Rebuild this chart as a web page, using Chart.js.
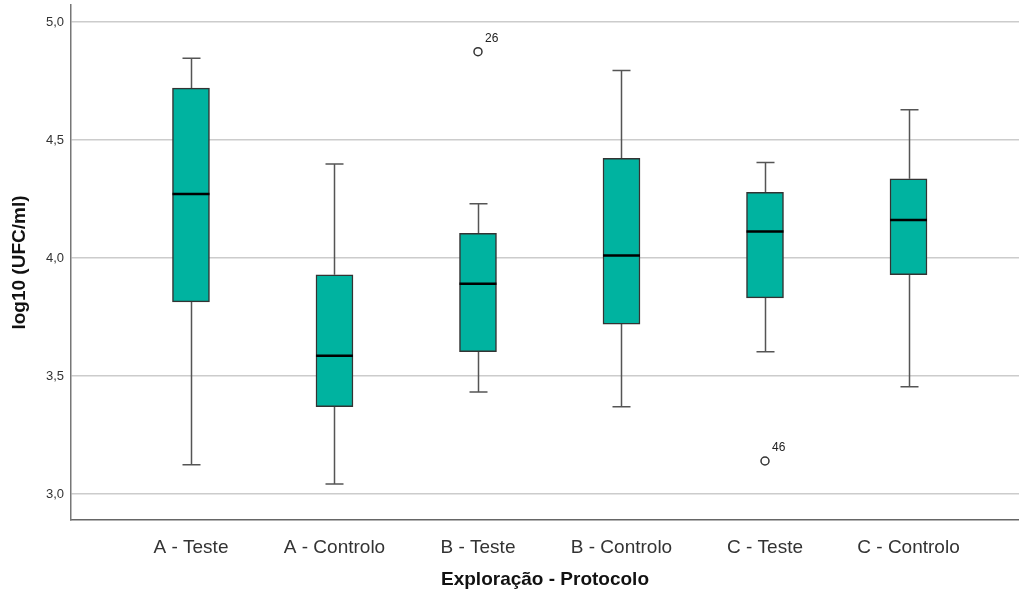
<!DOCTYPE html>
<html lang="pt">
<head>
<meta charset="UTF-8">
<title>log10 (UFC/ml) por Exploração - Protocolo</title>
<style>
  html, body { margin: 0; padding: 0; background: #fff; }
  #wrap { width: 1019px; height: 592px; }
</style>
</head>
<body>
<div id="wrap"><canvas id="boxChart" width="1019" height="592"></canvas></div>

<script src="https://cdn.jsdelivr.net/npm/chart.js@4"></script>
<script>
// values
const categories = ['A - Teste', 'A - Controlo', 'B - Teste', 'B - Controlo', 'C - Teste', 'C - Controlo'];
const whiskerLow = [3.124, 3.042, 3.432, 3.370, 3.603, 3.455];
const q1 = [3.814, 3.370, 3.603, 3.720, 3.831, 3.929];
const median = [4.271, 3.586, 3.891, 4.011, 4.112, 4.161];
const q3 = [4.720, 3.929, 4.105, 4.422, 4.278, 4.336];
const whiskerHigh = [4.846, 4.398, 4.230, 4.795, 4.405, 4.628];
const outlierGroup = [2, 4];
const outlierValue = [4.874, 3.140];
const outlierId = ['26', '46'];
const yTicks = [3.0, 3.5, 4.0, 4.5, 5.0];

const FONT = '"Liberation Sans", Arial, sans-serif';
const teal = '#00b3a0';

// whiskers + caps behind the boxes, median on top
const boxPlugin = {
  id: 'boxParts',
  beforeDatasetsDraw(chart) {
    const ctx = chart.ctx, x = chart.scales.x, y = chart.scales.y;
    ctx.save();
    ctx.strokeStyle = '#555';
    ctx.lineWidth = 1.5;
    categories.forEach((c, i) => {
      const px = Math.round(x.getPixelForValue(i)) + 0.5;
      const capHalf = 9;
      [[whiskerLow[i], q1[i]], [whiskerHigh[i], q3[i]]].forEach(([end, edge]) => {
        const pe = y.getPixelForValue(end), pb = y.getPixelForValue(edge);
        ctx.beginPath();
        ctx.moveTo(px, pb); ctx.lineTo(px, pe);
        ctx.moveTo(px - capHalf, pe); ctx.lineTo(px + capHalf, pe);
        ctx.stroke();
      });
    });
    ctx.restore();
  },
  afterDatasetsDraw(chart) {
    const ctx = chart.ctx, y = chart.scales.y;
    const bars = chart.getDatasetMeta(0).data;
    ctx.save();
    ctx.strokeStyle = '#000';
    ctx.lineWidth = 2.5;
    bars.forEach((bar, i) => {
      const half = bar.width / 2;
      const py = y.getPixelForValue(median[i]);
      ctx.beginPath();
      ctx.moveTo(bar.x - half, py); ctx.lineTo(bar.x + half, py);
      ctx.stroke();
    });
    // case numbers next to the outliers
    ctx.fillStyle = '#222';
    ctx.font = '12px ' + FONT;
    ctx.textAlign = 'left';
    ctx.textBaseline = 'middle';
    chart.getDatasetMeta(1).data.forEach((pt, i) => {
      ctx.fillText(outlierId[i], pt.x + 7, pt.y - 13);
    });
    ctx.restore();
  }
};

const ctx = document.getElementById('boxChart').getContext('2d');
new Chart(ctx, {
  type: 'bar',
  data: {
    datasets: [{
      label: 'IQR',
      data: categories.map((c, i) => ({ x: i, y: [q1[i], q3[i]] })),
      backgroundColor: teal,
      borderColor: '#333',
      borderWidth: 1.5,
      borderSkipped: false,
      barThickness: 37
    }, {
      type: 'scatter',
      label: 'Outliers',
      data: outlierGroup.map((g, i) => ({ x: g, y: outlierValue[i] })),
      pointStyle: 'circle',
      pointRadius: 4,
      pointBackgroundColor: '#fff',
      pointBorderColor: '#333',
      pointBorderWidth: 1.5
    }]
  },
  options: {
    responsive: false,
    animation: false,
    layout: { autoPadding: false, padding: { top: 5, right: 0, left: 0, bottom: 0 } },
    plugins: {
      legend: { display: false },
      tooltip: { enabled: false }
    },
    scales: {
      x: {
        type: 'linear',
        offset: false,
        min: -0.836,
        max: 5.77,
        afterBuildTicks: s => { s.ticks = categories.map((c, i) => ({ value: i })); },
        afterFit: s => { s.height = 72; s.paddingLeft = 0; s.paddingRight = 0; },
        grid: { display: false, offset: false },
        border: { color: '#666', width: 1.5 },
        ticks: {
          color: '#333',
          padding: 8,
          maxRotation: 0,
          font: { family: FONT, size: 19 },
          callback: v => categories[v]
        },
        title: {
          display: true,
          text: 'Exploração - Protocolo',
          color: '#111',
          padding: { top: 4, bottom: 1 },
          font: { family: FONT, size: 19, weight: 'bold' }
        }
      },
      y: {
        min: 2.89,
        max: 5.072,
        afterBuildTicks: s => { s.ticks = yTicks.map(v => ({ value: v })); },
        afterFit: s => { s.width = 71; s.paddingTop = 0; s.paddingBottom = 0; },
        grid: { color: '#cccccc', lineWidth: 1.5, drawTicks: false },
        border: { color: '#777', width: 1.5 },
        ticks: {
          color: '#333',
          padding: 7,
          font: { family: FONT, size: 13 },
          callback: v => v.toFixed(1).replace('.', ',')
        },
        title: {
          display: true,
          text: 'log10 (UFC/ml)',
          color: '#111',
          padding: { top: 8, bottom: 10 },
          font: { family: FONT, size: 19, weight: 'bold' }
        }
      }
    }
  },
  plugins: [boxPlugin]
});
</script>
</body>
</html>
